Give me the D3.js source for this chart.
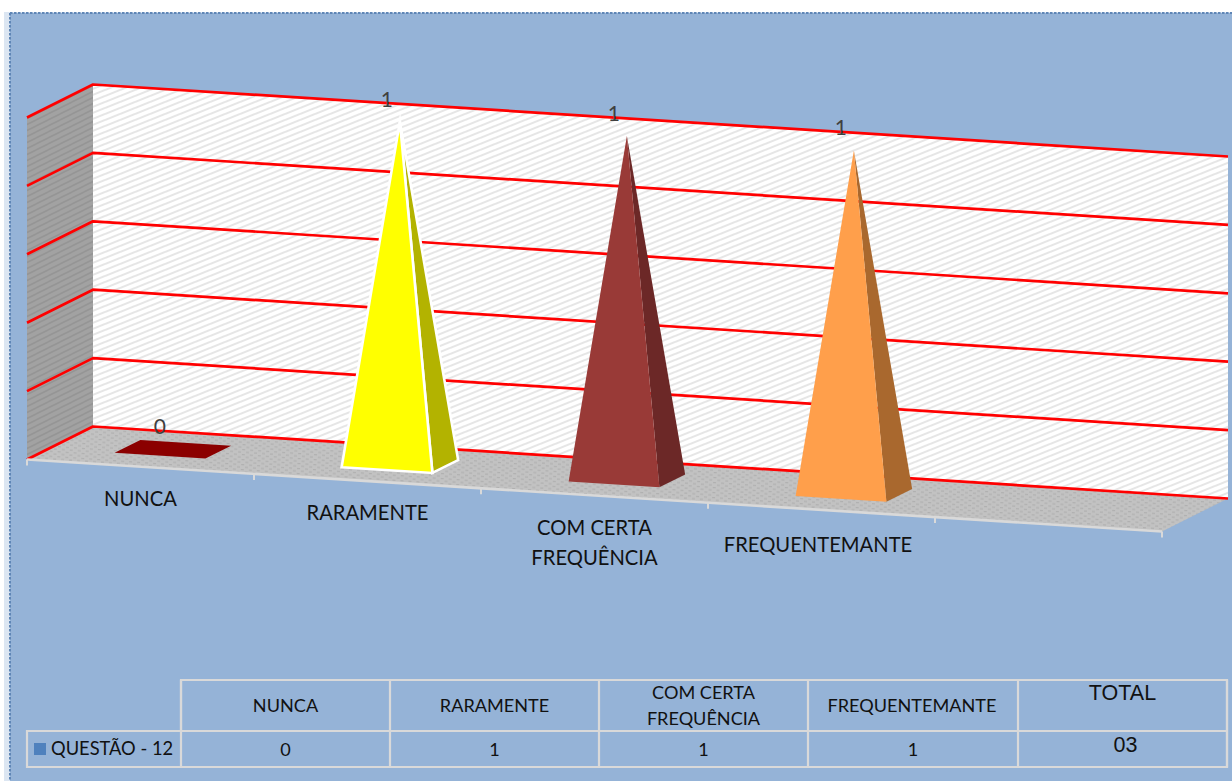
<!DOCTYPE html>
<html><head><meta charset="utf-8">
<script src="https://d3js.org/d3.v7.min.js"></script>
<style>
html,body{margin:0;padding:0;background:#fff;overflow:hidden}
svg{display:block}
text{font-family:Lato,"Open Sans",sans-serif}
</style></head><body>
<svg id="c" width="1232" height="781"></svg>
<script>
const categories = ["NUNCA","RARAMENTE","COM CERTA FREQUÊNCIA","FREQUENTEMANTE","TOTAL"];
const barValues = [0,1,1,1];
const axisLabelLines = [["NUNCA"],["RARAMENTE"],["COM CERTA","FREQUÊNCIA"],["FREQUENTEMANTE"]];
const dataLabels = ["0","1","1","1"];
const gridValues = [0,0.2,0.4,0.6,0.8,1];
const frontColors = ["#8b0000","#ffff00","#993a37","#ff9f4b"];
const sideColors = ["#8b0000","#b3b300","#6c2827","#a9682e"];
const outlineColors = ["none","#ffffff","none","none"];
const seriesName = "QUESTÃO - 12";
const tableHead = [["NUNCA"],["RARAMENTE"],["COM CERTA","FREQUÊNCIA"],["FREQUENTEMANTE"],["TOTAL"]];
const tableRow = ["0","1","1","1","03"];

const W = 1232, H = 781;
const svg = d3.select("#c");
const defs = svg.append("defs");

function hatch(id, bg, fg, w, h, sw){
  const p = defs.append("pattern").attr("id",id).attr("patternUnits","userSpaceOnUse").attr("width",w).attr("height",h);
  p.append("rect").attr("width",w).attr("height",h).attr("fill",bg);
  [[0,h,w,0],[-w,h,0,0],[0,2*h,w,h],[-w,2*h,0,h],[w,h,2*w,0],[w,0,2*w,-h],[0,0,w,-h]].forEach(l=>
    p.append("line").attr("x1",l[0]).attr("y1",l[1]).attr("x2",l[2]).attr("y2",l[3]).attr("stroke",fg).attr("stroke-width",sw));
}
hatch("wall","#ffffff","#e6e6e6",15,6,2);
hatch("side","#a2a2a2","#959595",12,6,1.6);
const fp = defs.append("pattern").attr("id","floor").attr("patternUnits","userSpaceOnUse").attr("width",8).attr("height",5).attr("patternTransform","rotate(4)");
fp.append("rect").attr("width",8).attr("height",5).attr("fill","#c2c2c2");
[[1,1],[5,3.5]].forEach(d=>fp.append("rect").attr("x",d[0]).attr("y",d[1]).attr("width",3).attr("height",1.2).attr("fill","#b0b0b0"));

// page background
svg.append("rect").attr("x",4).attr("y",12).attr("width",W-4).attr("height",H-12).attr("fill","#dce6f2");
svg.append("rect").attr("x",10).attr("y",13).attr("width",W-10).attr("height",H-13).attr("fill","#95b3d7");
svg.append("line").attr("x1",10).attr("x2",W).attr("y1",13).attr("y2",13).attr("stroke","#5f86b6").attr("stroke-width",2).attr("stroke-dasharray","2.5 1.5");
svg.append("line").attr("x1",10).attr("x2",10).attr("y1",13).attr("y2",H).attr("stroke","#5f86b6").attr("stroke-width",2).attr("stroke-dasharray","2.5 1.5");

// pseudo-3D scales
const n = categories.length;
const xAlong = d3.scaleLinear().domain([0,n]).range([27,1162]);
const yAlong = d3.scaleLinear().domain([0,n]).range([459.5,531.5]);
const xDepth = d3.scaleLinear().domain([0,1]).range([0,66]);
const yDepth = d3.scaleLinear().domain([0,1]).range([0,-33]);
const yVal = d3.scaleLinear().domain([0,1]).range([0,-342]);
const P = (u,d,v=0)=>[xAlong(u)+xDepth(d), yAlong(u)+yDepth(d)+yVal(v)];
const poly = d3.line().curve(d3.curveLinearClosed);

// walls
svg.append("path").attr("d",poly([P(0,0,0),P(0,1,0),P(0,1,1),P(0,0,1)])).attr("fill","url(#side)");
svg.append("path").attr("d",poly([P(0,1,0),P(n,1,0),P(n,1,1),P(0,1,1)])).attr("fill","url(#wall)");
svg.append("path").attr("d",poly([P(0,0,0),P(n,0,0),P(n,1,0),P(0,1,0)])).attr("fill","url(#floor)");

// gridlines
const seg = d3.line();
svg.append("g").selectAll("path").data(gridValues).join("path")
  .attr("d",v=>seg([P(0,0,v),P(0,1,v),P(n,1,v)]))
  .attr("fill","none").attr("stroke","#ff0000").attr("stroke-width",2.7).attr("stroke-linejoin","round");

// category axis
svg.append("path").attr("d",seg([P(0,0),P(n,0)])).attr("stroke","#d9d9d9").attr("stroke-width",2.6).attr("fill","none");
svg.append("g").selectAll("line").data(d3.range(n+1)).join("line")
  .attr("x1",i=>P(i,0)[0]).attr("x2",i=>P(i,0)[0])
  .attr("y1",i=>P(i,0)[1]).attr("y2",i=>P(i,0)[1]+6)
  .attr("stroke","#d9d9d9").attr("stroke-width",2);

// pyramids
const uA=0.29,uB=0.69,dA=0.33,dB=0.72,uC=0.49,dC=0.525;
const bars = svg.append("g").selectAll("g").data(barValues).join("g");
bars.each(function(v,i){
  const g = d3.select(this);
  const fl=P(i+uA,dA), fr=P(i+uB,dA), br=P(i+uB,dB), bl=P(i+uA,dB), apex=P(i+uC,dC,v);
  const common = s=>s.attr("stroke",outlineColors[i]).attr("stroke-width",2.6).attr("stroke-linejoin","miter").attr("stroke-miterlimit",20);
  if(v===0){
    g.append("path").attr("d",poly([fl,fr,br,bl])).attr("fill",frontColors[i]);
  } else {
    common(g.append("path").attr("d",poly([fr,br,apex])).attr("fill",sideColors[i]));
    common(g.append("path").attr("d",poly([fl,fr,apex])).attr("fill",frontColors[i]));
  }
  const a = P(i+uC,dC,v);
  g.append("text").attr("x",a[0]-13).attr("y",a[1]-15).attr("text-anchor","middle")
    .attr("font-size",21).attr("fill","#404040").text(dataLabels[i]);
});

// axis labels
axisLabelLines.forEach((lines,i)=>{
  const c=P(i+0.5,0);
  const t=svg.append("text").attr("text-anchor","middle").attr("font-size",20.2).attr("fill","#111");
  lines.forEach((s,j)=>t.append("tspan").attr("x",c[0]-(i===3?3.5:0)).attr("y",c[1]+39+(i===3?3:0)+j*30).text(s));
});

// data table
const colX=[181,390,599,808,1018,1227], rowY=[680,731,767], left=27;
const tb=svg.append("g").attr("stroke","#d9d9d9").attr("stroke-width",2.2).attr("fill","none");
tb.append("path").attr("d",seg([[colX[0],rowY[1]],[colX[0],rowY[0]],[colX[5],rowY[0]],[colX[5],rowY[2]],[left,rowY[2]],[left,rowY[1]],[colX[5],rowY[1]]]));
colX.forEach(x=>tb.append("line").attr("x1",x).attr("x2",x).attr("y1",rowY[0]).attr("y2",rowY[2]));
tableHead.forEach((lines,i)=>{
  const cx=(colX[i]+colX[i+1])/2, isT=i===4;
  const t=svg.append("text").attr("text-anchor","middle").attr("font-size",isT?21.5:18.1).attr("fill","#111")
    .style("font-family",isT?"'Liberation Sans',sans-serif":null);
  lines.forEach((s,j)=>{
    const y = isT?700 : lines.length===1?712 : 699+j*26;
    t.append("tspan").attr("x",cx+(i===3?-1:0)).attr("y",y).text(s);
  });
});
tableRow.forEach((s,i)=>{
  const cx=(colX[i]+colX[i+1])/2, isT=i===4;
  svg.append("text").attr("x",cx+(isT?3:0)).attr("y",isT?752:756).attr("text-anchor","middle").attr("font-size",isT?21.5:18.1).attr("fill","#111")
    .style("font-family",isT?"'Liberation Sans',sans-serif":null).text(s);
});
svg.append("rect").attr("x",34).attr("y",743).attr("width",12).attr("height",12).attr("fill","#4f81bd");
svg.append("text").attr("x",51).attr("y",755).attr("font-size",18.3).attr("fill","#111").text(seriesName);
</script>
</body></html>
